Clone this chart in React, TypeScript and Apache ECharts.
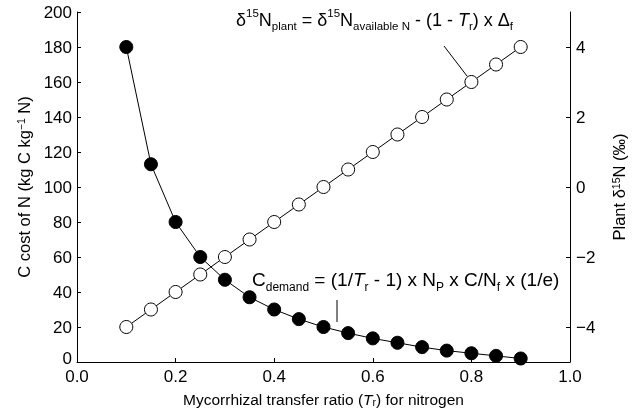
import React, { useEffect, useRef } from "react";
import * as echarts from "echarts";

const ratios = [0.1, 0.15, 0.2, 0.25, 0.3, 0.35, 0.4, 0.45, 0.5, 0.55, 0.6, 0.65, 0.7, 0.75, 0.8, 0.85, 0.9];
const carbonCost = [180, 113, 80, 60, 47, 37, 30, 24.5, 20, 16.5, 13.5, 11, 8.5, 6.5, 5, 3.5, 2];
const plantDelta = [-4, -3.5, -3, -2.5, -2, -1.5, -1, -0.5, 0, 0.5, 1, 1.5, 2, 2.5, 3, 3.5, 4];
const rightTicks = [-4, -2, 0, 2, 4];

const FONT = "Liberation Sans, Arial, Helvetica, sans-serif";

export default function App() {
  const ref = useRef<HTMLDivElement>(null);
  useEffect(() => {
    if (!ref.current) return;
    const chart = echarts.init(ref.current, null, { renderer: "svg" });
    const mkRich = (main: number, small: number, lh: number) => ({
      m: { fontSize: main, fontFamily: FONT, color: "#000", lineHeight: lh },
      it: { fontSize: main, fontFamily: FONT, color: "#000", fontStyle: "italic", lineHeight: lh },
      sup: { fontSize: small, fontFamily: FONT, color: "#000", verticalAlign: "top", lineHeight: small + 3 },
      sub: { fontSize: small, fontFamily: FONT, color: "#000", verticalAlign: "bottom", lineHeight: small + 3 },
    });
    const nameRich = (size: number) => ({
      n: { fontSize: size, fontFamily: FONT, color: "#000" },
      it: { fontSize: size, fontFamily: FONT, color: "#000", fontStyle: "italic" },
      sup: { fontSize: 10.5, fontFamily: FONT, color: "#000", verticalAlign: "top", lineHeight: 12 },
      sub: { fontSize: 10.5, fontFamily: FONT, color: "#000", verticalAlign: "bottom", lineHeight: 12 },
    });
    const minus = (v: number) => String(v).replace("-", "\u2212");
    chart.setOption({
      animation: false,
      grid: { left: 77, right: 64, top: 12, bottom: 50 },
      xAxis: {
        type: "value",
        min: 0,
        max: 1,
        interval: 0.2,
        name: "{n|Mycorrhizal transfer ratio (}{it|T}{sub|r}{n|) for nitrogen}",
        nameLocation: "middle",
        nameGap: 29,
        nameTextStyle: { rich: nameRich(15.5) },
        splitLine: { show: false },
        axisLine: { lineStyle: { color: "#000", width: 1 } },
        axisTick: { inside: true, length: 4, lineStyle: { color: "#000" } },
        axisLabel: {
          color: "#000",
          fontSize: 17,
          fontFamily: FONT,
          margin: 6,
          formatter: (v: number) => v.toFixed(1),
        },
      },
      yAxis: [
        {
          type: "value",
          min: 0,
          max: 200,
          interval: 20,
          name: "{n|C cost of N (kg C kg}{sup|\u22121}{n| N)}",
          nameLocation: "middle",
          nameRotate: 90,
          nameGap: 42,
          nameTextStyle: { rich: nameRich(16.5) },
          splitLine: { show: false },
          axisLine: { show: true, lineStyle: { color: "#000", width: 1 } },
          axisTick: { show: true, inside: true, length: 4, lineStyle: { color: "#000" } },
          axisLabel: {
            color: "#000",
            fontSize: 17,
            fontFamily: FONT,
            margin: 5,
            formatter: (v: number) => (v === 0 ? "{z|0}" : String(v)),
            rich: { z: { fontSize: 17, fontFamily: FONT, color: "#000", padding: [0, 0, 8, 0] } },
          },
        },
        {
          type: "value",
          position: "right",
          min: -5,
          max: 5,
          name: "{n|Plant \u03b4}{sup|15}{n|N (\u2030)}",
          nameLocation: "middle",
          nameRotate: 90,
          nameGap: 40,
          nameTextStyle: { rich: nameRich(16.5) },
          splitLine: { show: false },
          axisLine: { show: true, lineStyle: { color: "#000", width: 1 } },
          axisTick: {
            show: true,
            inside: true,
            length: 4,
            customValues: rightTicks,
            lineStyle: { color: "#000" },
          },
          axisLabel: {
            color: "#000",
            fontSize: 17,
            fontFamily: FONT,
            margin: 6,
            customValues: rightTicks,
            formatter: (v: number) => minus(v),
          },
        },
      ],
      series: [
        {
          type: "line",
          yAxisIndex: 1,
          data: ratios.map((x, i) => [x, plantDelta[i]]),
          symbol: "circle",
          symbolSize: 13,
          lineStyle: { color: "#000", width: 1 },
          itemStyle: { color: "#fff", borderColor: "#000", borderWidth: 1 },
          z: 2,
        },
        {
          type: "line",
          yAxisIndex: 0,
          data: ratios.map((x, i) => [x, carbonCost[i]]),
          symbol: "circle",
          symbolSize: 13,
          lineStyle: { color: "#000", width: 1 },
          itemStyle: { color: "#000", borderColor: "#000", borderWidth: 1 },
          z: 3,
        },
      ],
      graphic: [
        {
          type: "text",
          left: 236,
          top: 7,
          style: {
            text:
              "{m|\u03b4}{sup|15}{m|N}{sub|plant}{m| = \u03b4}{sup|15}{m|N}{sub|available N}{m| - (1 - }{it|T}{sub|r}{m|) x \u0394}{sub|f}",
            rich: mkRich(18, 11.5, 25),
          },
        },
        {
          type: "line",
          shape: { x1: 444, y1: 46, x2: 467, y2: 76 },
          style: { stroke: "#000", lineWidth: 1 },
        },
        {
          type: "text",
          left: 252,
          top: 270,
          style: {
            text:
              "{m|C}{sub|demand}{m| = (1/}{it|T}{sub|r}{m| - 1) x N}{sub|P}{m| x C/N}{sub|f}{m| x (1/e)}",
            rich: mkRich(19, 12, 26),
          },
        },
        {
          type: "line",
          shape: { x1: 337, y1: 300, x2: 337, y2: 322 },
          style: { stroke: "#000", lineWidth: 1 },
        },
      ],
    });
    return () => chart.dispose();
  }, []);
  return (
    <div
      ref={ref}
      style={{ position: "fixed", left: 0, top: 0, width: 635, height: 412 }}
    />
  );
}
